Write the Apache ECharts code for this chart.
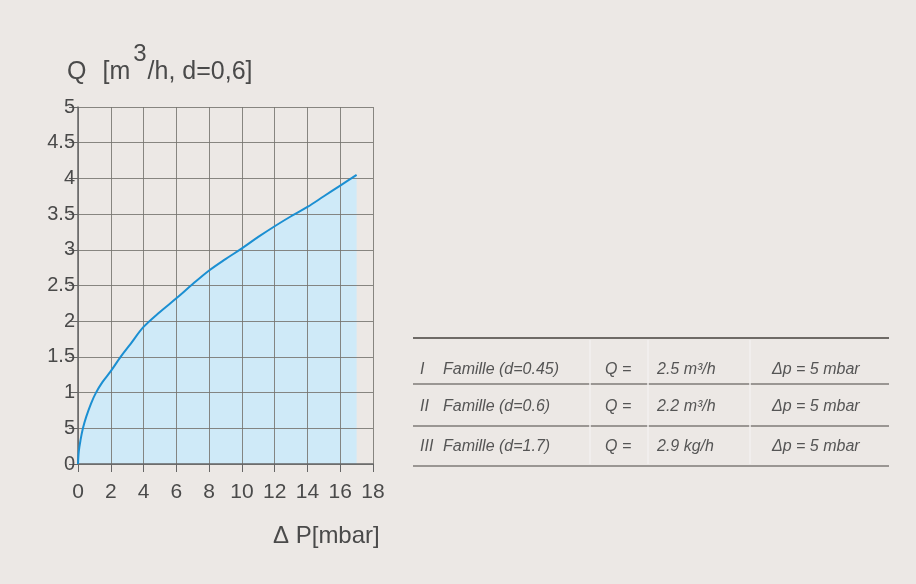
<!DOCTYPE html>
<html>
<head>
<meta charset="utf-8">
<script src="https://cdn.jsdelivr.net/npm/echarts@6/dist/echarts.min.js"></script>
<style>
html, body { margin: 0; padding: 0; background: #ece8e5; }
#box { width: 916px; height: 584px; }
</style>
</head>
<body>
<div id="box"></div>
<script>
// débit (m3/h) en fonction de la perte de charge (mbar)
var dp = [0, 0.05, 0.15, 0.3, 0.5, 0.8, 1.1, 1.5, 2, 2.6, 3.2, 4, 5, 6, 7, 8, 9, 10, 11, 12, 13, 14, 15, 16, 17];
var q = [0, 0.18, 0.33, 0.5, 0.66, 0.85, 1.0, 1.15, 1.3, 1.5, 1.68, 1.92, 2.13, 2.32, 2.52, 2.71, 2.87, 3.02, 3.18, 3.33, 3.47, 3.6, 3.75, 3.9, 4.05];
var yLabels = ['0', '5', '1', '1.5', '2', '2.5', '3', '3.5', '4', '4.5', '5'];
var xLabels = ['0', '2', '4', '6', '8', '10', '12', '14', '16', '18'];

var familles = ['Famille (d=0.45)', 'Famille (d=0.6)', 'Famille (d=1.7)'];
var romains = ['I', 'II', 'III'];
var debits = ['2.5 m³/h', '2.2 m³/h', '2.9 kg/h'];
var pertes = ['Δp = 5 mbar', 'Δp = 5 mbar', 'Δp = 5 mbar'];

var myChart = echarts.init(document.getElementById('box'));
var txtColor = '#4a4a4a';
var font = '"Liberation Sans", Arial, sans-serif';
var points = dp.map(function (x, k) { return [x, q[k]]; });

// tableau à droite
var tbl = [];
var lineY = [338, 384, 426, 466];
var rowY = [370, 407, 447];
lineY.forEach(function (y, i) {
    tbl.push({
        type: 'line',
        shape: { x1: 413, y1: y, x2: 889, y2: y },
        style: { stroke: i === 0 ? '#6e6a66' : '#7f7b77', lineWidth: i === 0 ? 2 : 1.5 }
    });
});
[590, 648, 750].forEach(function (x) {
    tbl.push({
        type: 'line',
        shape: { x1: x, y1: 340, x2: x, y2: 464 },
        style: { stroke: '#f3f1ef', lineWidth: 1.5 }
    });
});
for (var i = 0; i < 3; i++) {
    var st = { fill: '#555', font: 'italic 16px ' + font, verticalAlign: 'middle' };
    tbl.push({ type: 'text', x: 420, y: rowY[i], style: Object.assign({ text: romains[i] }, st) });
    tbl.push({ type: 'text', x: 443, y: rowY[i], style: Object.assign({ text: familles[i] }, st) });
    tbl.push({ type: 'text', x: 605, y: rowY[i], style: Object.assign({ text: 'Q =' }, st) });
    tbl.push({ type: 'text', x: 657, y: rowY[i], style: Object.assign({ text: debits[i] }, st) });
    tbl.push({ type: 'text', x: 772, y: rowY[i], style: Object.assign({ text: pertes[i] }, st) });
}

// titre de l'axe Q
tbl.push({
    type: 'text', x: 67, y: 42,
    style: {
        text: '{a|Q}{b|[m}{s|3}{a|/h, d=0,6]}',
        rich: {
            a: { fontSize: 25, fontFamily: font, fill: txtColor, padding: [18, 0, 0, 0] },
            b: { fontSize: 25, fontFamily: font, fill: txtColor, padding: [18, 0, 0, 16] },
            s: { fontSize: 24, fontFamily: font, fill: txtColor, padding: [0, 1, 18, 3] }
        }
    }
});
tbl.push({
    type: 'text', x: 273, y: 524,
    style: { text: 'Δ P[mbar]', fontSize: 24, fontFamily: font, fill: txtColor }
});

option = {
    backgroundColor: '#ece8e5',
    animation: false,
    grid: { left: 78, right: 543, top: 107, bottom: 120 },
    xAxis: {
        type: 'value', min: 0, max: 18, interval: 2, z: 3,
        axisLine: { lineStyle: { color: '#666', width: 1.5 } },
        axisTick: { show: true, length: 8, lineStyle: { color: '#666' } },
        axisLabel: {
            color: txtColor, fontSize: 21, fontFamily: font, margin: 18,
            formatter: function (v) { return xLabels[Math.round(v / 2)]; }
        },
        splitLine: { show: true, lineStyle: { color: '#75736f', width: 1, opacity: 0.85 } }
    },
    yAxis: {
        type: 'value', min: 0, max: 5, interval: 0.5, z: 3,
        axisLine: { show: true, lineStyle: { color: '#666', width: 1.5 } },
        axisTick: { show: true, length: 9, lineStyle: { color: '#666' } },
        axisLabel: {
            color: txtColor, fontSize: 20, fontFamily: font, margin: 3,
            formatter: function (v) { return yLabels[Math.round(v * 2)]; }
        },
        splitLine: { show: true, lineStyle: { color: '#75736f', width: 1, opacity: 0.85 } }
    },
    graphic: tbl,
    series: [
        {
            name: 'zone',
            type: 'line',
            smooth: 0.35,
            symbol: 'none',
            data: points,
            lineStyle: { width: 0 },
            areaStyle: { color: '#cfeaf8', opacity: 1 },
            z: 1
        },
        {
            name: 'Q',
            type: 'line',
            smooth: 0.35,
            symbol: 'none',
            data: points,
            lineStyle: { color: '#1b8fd2', width: 2 },
            z: 5
        }
    ]
};
myChart.setOption(option, true);
</script>
</body>
</html>
